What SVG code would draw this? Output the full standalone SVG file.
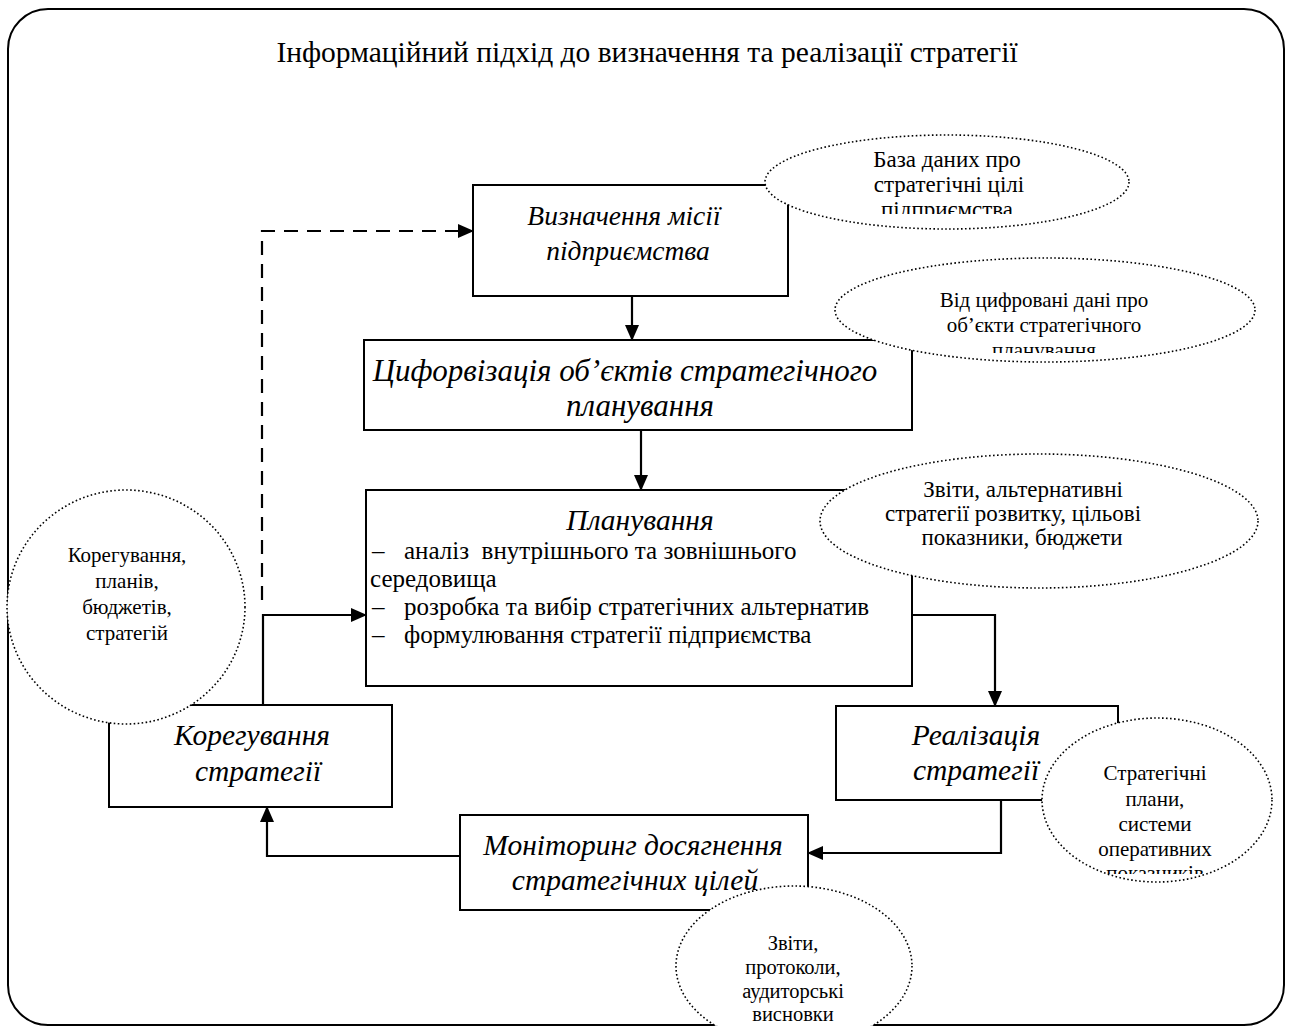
<svg xmlns="http://www.w3.org/2000/svg" width="1292" height="1026" viewBox="0 0 1292 1026">
<style>
text{font-family:"Liberation Serif","Times New Roman",serif;fill:#000}
.title{font-size:29.5px}
.bt{font-size:29.5px;font-style:italic;text-anchor:middle}
.li{font-size:25px;white-space:pre}
.et{font-size:21px;text-anchor:middle}
.et2{font-size:23px;text-anchor:middle}
.box{fill:#fff;stroke:#000;stroke-width:2}
.ell{fill:#fff;stroke:#000;stroke-width:1.6;stroke-dasharray:1.6 2.4}
.con{fill:none;stroke:#000;stroke-width:2.2}
.dash{stroke-dasharray:14 9}
</style>
<defs>
<marker id="ah" markerUnits="userSpaceOnUse" markerWidth="16" markerHeight="14" refX="15" refY="7" orient="auto">
<path d="M0,0 L16,7 L0,14 Z" fill="#000"/>
</marker>
<clipPath id="c1"><rect x="760" y="130" width="380" height="84"/></clipPath>
<clipPath id="c2"><rect x="830" y="250" width="440" height="103"/></clipPath>
<clipPath id="c5"><rect x="1040" y="710" width="240" height="164"/></clipPath>
</defs>
<rect x="8" y="9" width="1276" height="1016" rx="40" ry="40" fill="#fff" stroke="#000" stroke-width="2"/>
<text class="title" x="647" y="62" text-anchor="middle">Інформаційний підхід до визначення та реалізації стратегії</text>

<g id="connectors">
<path class="con dash" d="M262,600 V231 H473" marker-end="url(#ah)"/>
<path class="con" d="M263,705 V615 H366" marker-end="url(#ah)"/>
<path class="con" d="M632,296 V340" marker-end="url(#ah)"/>
<path class="con" d="M641,430 V490" marker-end="url(#ah)"/>
<path class="con" d="M912,615 H995 V706" marker-end="url(#ah)"/>
<path class="con" d="M1001,800 V853 H808" marker-end="url(#ah)"/>
<path class="con" d="M460,856 H267 V807" marker-end="url(#ah)"/>
</g>

<g id="n-mission">
<rect class="box" x="473" y="185" width="315" height="111"/>
<text class="bt" x="624" y="225" style="font-size:27.5px">Визначення місії</text>
<text class="bt" x="628" y="260" style="font-size:27.5px">підприємства</text>
</g>
<g id="n-digit">
<rect class="box" x="364" y="340" width="548" height="90"/>
<text class="bt" x="625" y="381" style="font-size:31px">Цифорвізація об’єктів стратегічного</text>
<text class="bt" x="640" y="416" style="font-size:31px">планування</text>
</g>
<g id="n-plan">
<rect class="box" x="366" y="490" width="546" height="196"/>
<text class="bt" x="640" y="530">Планування</text>
<text class="li" x="372" y="559">–</text><text class="li" x="404" y="559">аналіз  внутрішнього та зовнішнього</text>
<text class="li" x="370" y="587">середовища</text>
<text class="li" x="372" y="615">–</text><text class="li" x="404" y="615">розробка та вибір стратегічних альтернатив</text>
<text class="li" x="372" y="643">–</text><text class="li" x="404" y="643">формулювання стратегії підприємства</text>
</g>
<g id="n-real">
<rect class="box" x="836" y="706" width="282" height="94"/>
<text class="bt" x="976" y="745">Реалізація</text>
<text class="bt" x="976" y="780">стратегії</text>
</g>
<g id="n-monitor">
<rect class="box" x="460" y="815" width="348" height="95"/>
<text class="bt" x="633" y="855">Моніторинг досягнення</text>
<text class="bt" x="635" y="890">стратегічних цілей</text>
</g>
<g id="n-correct">
<rect class="box" x="109" y="705" width="283" height="102"/>
<text class="bt" x="252" y="745">Корегування</text>
<text class="bt" x="258" y="781">стратегії</text>
</g>

<g id="e-db">
<ellipse class="ell" cx="947" cy="182" rx="182" ry="47"/>
<g clip-path="url(#c1)">
<text class="et2" x="947" y="167">База даних про</text>
<text class="et2" x="949" y="192">стратегічні цілі</text>
<text class="et2" x="947" y="217">підприємства</text>
</g>
</g>
<g id="e-digit">
<ellipse class="ell" cx="1045" cy="310" rx="210" ry="52"/>
<g clip-path="url(#c2)">
<text class="et" x="1044" y="307">Від цифровані дані про</text>
<text class="et" x="1044" y="332">об’єкти стратегічного</text>
<text class="et" x="1044" y="357">планування</text>
</g>
</g>
<g id="e-reports">
<ellipse class="ell" cx="1039" cy="521" rx="219" ry="67"/>
<text class="et2" x="1023" y="497">Звіти, альтернативні</text>
<text class="et2" x="1013" y="521">стратегії розвитку, цільові</text>
<text class="et2" x="1022" y="545">показники, бюджети</text>
</g>
<g id="e-correct">
<ellipse class="ell" cx="126" cy="607" rx="119" ry="117"/>
<text class="et" x="127" y="562">Корегування,</text>
<text class="et" x="127" y="588">планів,</text>
<text class="et" x="127" y="614">бюджетів,</text>
<text class="et" x="127" y="640">стратегій</text>
</g>
<g id="e-plans">
<ellipse class="ell" cx="1157" cy="800" rx="115" ry="82"/>
<g clip-path="url(#c5)">
<text class="et" x="1155" y="780">Стратегічні</text>
<text class="et" x="1155" y="806">плани,</text>
<text class="et" x="1155" y="831">системи</text>
<text class="et" x="1155" y="856">оперативних</text>
<text class="et" x="1155" y="880">показників</text>
</g>
</g>
<g id="e-audit">
<ellipse class="ell" cx="794" cy="966" rx="118" ry="80"/>
<text class="et" x="793" y="950" style="font-size:20.5px">Звіти,</text>
<text class="et" x="793" y="974" style="font-size:20.5px">протоколи,</text>
<text class="et" x="793" y="998" style="font-size:20.5px">аудиторські</text>
<text class="et" x="793" y="1021" style="font-size:20.5px">висновки</text>
</g>
</svg>
